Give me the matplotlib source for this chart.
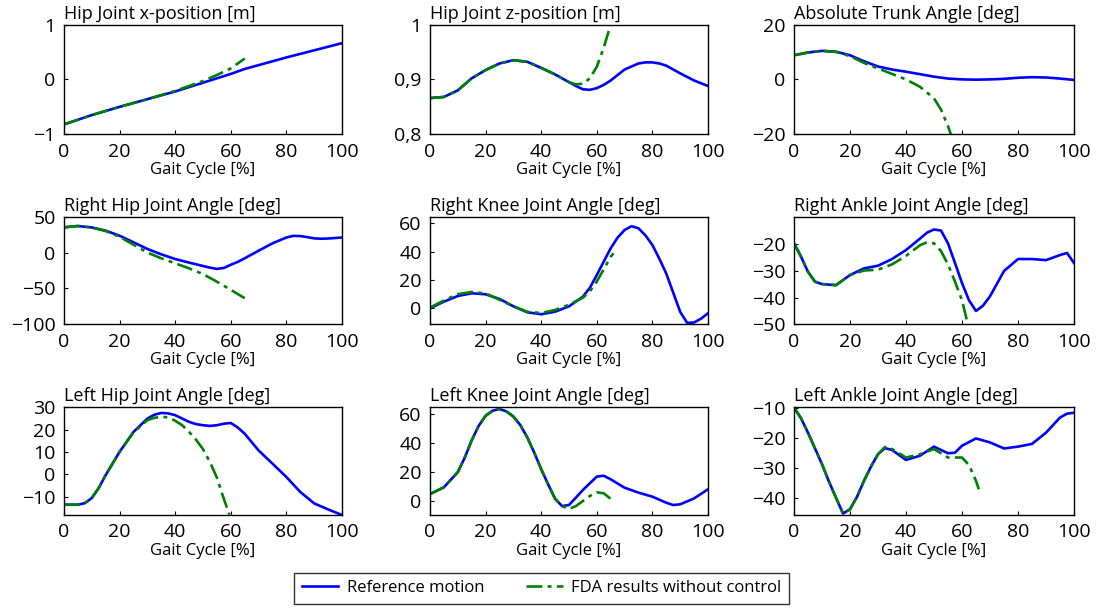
import matplotlib
matplotlib.use("Agg")
import matplotlib.pyplot as plt
from matplotlib.lines import Line2D

plt.rcParams['font.family'] = ['Open Sans', 'DejaVu Sans']
plt.rcParams['axes.unicode_minus'] = True

# ---- data (gait cycle in %) ----
# Hip joint x-position [m]
hipx_pct = [0, 10, 20, 30, 40, 50, 55, 60, 65, 70, 80, 90, 100]
hipx_ref = [-0.82, -0.65, -0.50, -0.36, -0.22, -0.06, 0.02, 0.10, 0.19, 0.26, 0.40, 0.53, 0.66]
hipx_fda_pct = [0, 10, 20, 30, 40, 50, 55, 60, 65]
hipx_fda = [-0.82, -0.65, -0.50, -0.36, -0.21, -0.03, 0.08, 0.20, 0.38]

# Hip joint z-position [m]
hipz_pct = [0, 5, 10, 15, 20, 25, 30, 35, 40, 45, 50, 52.5, 55, 57.5, 60, 62.5, 65, 70, 75,
            77.5, 80, 82.5, 85, 90, 95, 100]
hipz_ref = [0.866, 0.868, 0.880, 0.902, 0.917, 0.929, 0.935, 0.932, 0.921, 0.909, 0.895,
            0.888, 0.882, 0.881, 0.884, 0.890, 0.898, 0.918, 0.929, 0.931, 0.931, 0.929,
            0.925, 0.911, 0.898, 0.888]
hipz_fda_pct = [0, 5, 10, 15, 20, 25, 30, 35, 40, 45, 50, 52.5, 55, 57.5, 60, 62.5, 65]
hipz_fda = [0.866, 0.868, 0.880, 0.902, 0.917, 0.929, 0.935, 0.932, 0.921, 0.909, 0.895,
            0.891, 0.892, 0.902, 0.923, 0.958, 1.0]

# Absolute trunk angle [deg]
trunk_pct = [0, 5, 10, 15, 20, 25, 30, 35, 40, 45, 50, 55, 60, 65, 70, 75, 80, 85, 90, 95, 100]
trunk_ref = [8.8, 9.8, 10.4, 10.1, 8.8, 6.6, 4.7, 3.6, 2.8, 1.9, 1.0, 0.3, 0.0, -0.1, 0.0,
             0.2, 0.6, 0.8, 0.7, 0.3, -0.2]
trunk_fda_pct = [0, 5, 10, 15, 20, 25, 30, 35, 40, 45, 50, 52.5, 55, 56]
trunk_fda = [8.8, 9.8, 10.4, 10.0, 8.5, 6.0, 4.0, 2.0, 0.0, -2.7, -6.9, -11.0, -17.0, -20.0]

# Right hip joint angle [deg]
rhip_pct = [0, 5, 10, 15, 20, 25, 30, 35, 40, 45, 50, 52.5, 55, 57.5, 60, 62.5, 65, 70, 75,
            80, 82.5, 85, 87.5, 90, 92.5, 95, 100]
rhip_ref = [35.2, 37.0, 35.0, 30.5, 23.5, 14.3, 5.0, -2.5, -9.0, -14.0, -18.7, -21.0, -22.8,
            -21.5, -17.0, -13.0, -8.0, 2.6, 12.9, 21.0, 23.3, 23.0, 21.5, 19.8, 19.3, 19.6, 21.0]
rhip_fda_pct = [0, 5, 10, 15, 20, 25, 30, 35, 40, 45, 50, 55, 60, 65]
rhip_fda = [35.2, 37.0, 35.0, 30.0, 22.0, 11.0, 0.0, -8.0, -15.0, -22.0, -30.0, -40.6, -52.0, -63.6]

# Right knee joint angle [deg]
rknee_pct = [0, 5, 10, 15, 20, 25, 30, 35, 40, 45, 50, 55, 57.5, 60, 62.5, 65, 67.5, 70,
             72.5, 75, 77.5, 80, 82.5, 85, 87.5, 90, 92.5, 95, 97.5, 100]
rknee_ref = [0.0, 4.7, 8.7, 10.6, 9.9, 6.6, 1.4, -2.8, -4.2, -2.4, 1.4, 8.2, 14.5, 23.5,
             33.0, 42.4, 50.0, 55.3, 58.0, 56.5, 51.5, 44.7, 35.0, 24.5, 11.0, -2.5, -10.3,
             -10.0, -7.3, -3.5]
rknee_fda_pct = [0, 5, 10, 15, 20, 25, 30, 35, 40, 45, 50, 55, 57.5, 60, 62.5, 65, 66]
rknee_fda = [0.5, 5.5, 10.0, 11.5, 10.5, 6.0, 1.5, -2.5, -3.3, -1.2, 2.5, 7.5, 12.0, 19.0,
             27.5, 36.5, 38.8]

# Right ankle joint angle [deg]
rank_pct = [0, 2.5, 5, 7.5, 10, 15, 20, 25, 30, 35, 40, 42.5, 45, 47.5, 50, 52.5, 55, 57.5,
            60, 62.5, 65, 67.5, 70, 75, 80, 85, 90, 95, 97.5, 100]
rank_ref = [-19.6, -24.6, -30.3, -34.0, -34.9, -35.3, -31.5, -29.0, -28.0, -25.5, -22.1,
            -20.0, -17.8, -15.6, -14.4, -14.8, -19.6, -27.0, -34.5, -41.0, -45.0, -43.0,
            -39.5, -30.0, -25.5, -25.5, -25.9, -24.0, -23.2, -27.0]
rank_fda_pct = [0, 2.5, 5, 7.5, 10, 15, 20, 25, 30, 35, 40, 42.5, 45, 47.5, 50, 52.5, 55,
                57.5, 60, 62]
rank_fda = [-19.6, -24.6, -30.3, -34.0, -34.9, -35.3, -31.5, -29.8, -29.5, -27.5, -24.3,
            -22.3, -20.3, -19.2, -19.6, -22.5, -27.5, -34.0, -41.0, -49.6]

# Left hip joint angle [deg]
lhip_pct = [0, 5, 7.5, 10, 12.5, 15, 20, 25, 30, 32.5, 35, 37.5, 40, 42.5, 45, 47.5, 50,
            52.5, 55, 57.5, 60, 62.5, 65, 70, 75, 80, 85, 90, 95, 100]
lhip_ref = [-13.6, -13.6, -12.9, -10.6, -6.1, -0.3, 10.1, 19.0, 25.0, 26.7, 27.5, 27.3,
            26.5, 25.0, 23.5, 22.5, 22.0, 21.7, 22.0, 22.7, 23.0, 21.0, 18.2, 10.7, 4.8,
            -1.2, -7.9, -13.0, -15.7, -18.2]
lhip_fda_pct = [0, 5, 7.5, 10, 12.5, 15, 20, 25, 30, 32.5, 35, 37.5, 40, 42.5, 45, 47.5,
                50, 52.5, 55, 57.5, 59.5]
lhip_fda = [-13.6, -13.6, -12.9, -10.6, -6.1, -0.3, 10.1, 18.8, 24.3, 25.3, 25.8, 25.5,
            24.0, 22.0, 19.0, 15.5, 11.3, 5.5, -1.5, -11.0, -18.0]

# Left knee joint angle [deg]
lknee_pct = [0, 5, 10, 12.5, 15, 17.5, 20, 22.5, 25, 27.5, 30, 32.5, 35, 37.5, 40, 42.5,
             45, 47.5, 50, 55, 60, 62.5, 65, 70, 75, 80, 85, 87.5, 90, 95, 100]
lknee_ref = [4.8, 9.5, 20.0, 30.0, 42.0, 52.0, 59.0, 62.5, 63.7, 62.0, 58.5, 52.5, 44.0,
             33.5, 22.0, 11.5, 1.5, -3.5, -2.8, 7.6, 16.9, 17.5, 15.0, 9.2, 5.8, 3.0, -1.2,
             -2.8, -2.3, 1.8, 8.1]
lknee_fda_pct = [0, 5, 10, 12.5, 15, 17.5, 20, 22.5, 25, 27.5, 30, 32.5, 35, 37.5, 40,
                 42.5, 45, 47.5, 50, 52.5, 55, 57.5, 60, 62.5, 65, 66]
lknee_fda = [4.8, 9.5, 20.0, 30.0, 42.0, 52.0, 59.0, 62.5, 63.7, 62.0, 58.5, 52.5, 44.0,
             33.5, 22.0, 11.5, 1.5, -3.5, -5.5, -3.5, 0.0, 3.5, 6.0, 5.3, 1.5, 0.5]

# Left ankle joint angle [deg]
lank_pct = [0, 2.5, 5, 7.5, 10, 12.5, 15, 17.5, 20, 22.5, 25, 27.5, 30, 32.5, 35, 40, 45,
            50, 55, 57.5, 60, 65, 70, 75, 80, 85, 90, 95, 97.5, 100]
lank_ref = [-10.0, -13.5, -18.3, -23.5, -28.7, -34.5, -39.8, -45.0, -43.6, -39.5, -34.2,
            -29.5, -25.4, -23.4, -24.0, -27.3, -25.9, -22.9, -25.1, -24.9, -22.6, -20.2,
            -21.5, -23.5, -22.9, -22.0, -18.3, -13.3, -12.0, -11.7]
lank_fda_pct = [0, 2.5, 5, 7.5, 10, 12.5, 15, 17.5, 20, 22.5, 25, 27.5, 30, 32.5, 35, 40,
                45, 50, 55, 60, 62.5, 65, 66]
lank_fda = [-10.0, -13.5, -18.3, -23.5, -28.7, -34.5, -39.8, -45.0, -43.6, -39.5, -34.2,
            -29.5, -25.4, -23.0, -23.7, -26.5, -25.4, -23.7, -26.5, -26.5, -29.0, -34.2, -37.0]

titles = ['Hip Joint x-position [m]', 'Hip Joint z-position [m]', 'Absolute Trunk Angle [deg]',
          'Right Hip Joint Angle [deg]', 'Right Knee Joint Angle [deg]', 'Right Ankle Joint Angle [deg]',
          'Left Hip Joint Angle [deg]', 'Left Knee Joint Angle [deg]', 'Left Ankle Joint Angle [deg]']

panels = [
    (hipx_pct, hipx_ref, hipx_fda_pct, hipx_fda, (-1, 1), [-1, 0, 1]),
    (hipz_pct, hipz_ref, hipz_fda_pct, hipz_fda, (0.8, 1.0), [0.8, 0.9, 1.0]),
    (trunk_pct, trunk_ref, trunk_fda_pct, trunk_fda, (-20, 20), [-20, 0, 20]),
    (rhip_pct, rhip_ref, rhip_fda_pct, rhip_fda, (-100, 50), [-100, -50, 0, 50]),
    (rknee_pct, rknee_ref, rknee_fda_pct, rknee_fda, (-11.3, 64.7), [0, 20, 40, 60]),
    (rank_pct, rank_ref, rank_fda_pct, rank_fda, (-50, -9.6), [-50, -40, -30, -20]),
    (lhip_pct, lhip_ref, lhip_fda_pct, lhip_fda, (-18.2, 30.3), [-10, 0, 10, 20, 30]),
    (lknee_pct, lknee_ref, lknee_fda_pct, lknee_fda, (-9.7, 65.3), [0, 20, 40, 60]),
    (lank_pct, lank_ref, lank_fda_pct, lank_fda, (-45.5, -9.7), [-40, -30, -20, -10]),
]

# axes boxes in pixels (left, right) per column and (top, bottom) per row
W, H = 1099, 614
cols = [(64, 342), (430, 708), (794, 1074)]
rows = [(24.5, 134.3), (216.7, 324.3), (406.7, 515)]

fig = plt.figure(figsize=(W / 100, H / 100), dpi=100)

for i, (px, ref, fpx, fda, ylim, yticks) in enumerate(panels):
    r, c = divmod(i, 3)
    l, rr = cols[c]
    t, b = rows[r]
    ax = fig.add_axes([l / W, 1 - b / H, (rr - l) / W, (b - t) / H])
    ax.plot(px, ref, color=(0, 0, 1), lw=1.9, solid_joinstyle='round')
    ax.plot(fpx, fda, color=(0, 0.5, 0), lw=1.9, dashes=(6, 2, 1.5, 2))
    ax.set_xlim(0, 100)
    ax.set_ylim(*ylim)
    ax.set_xticks([0, 20, 40, 60, 80, 100])
    ax.set_yticks(yticks)
    if i == 1:
        ax.set_yticklabels(['0,8', '0,9', '1'])
    ax.tick_params(direction='in', length=3, width=0.8, labelsize=14, pad=6)
    for s in ax.spines.values():
        s.set_linewidth(1.0)
    ax.set_title(titles[i], loc='left', fontsize=13, pad=4)
    ax.set_xlabel('Gait Cycle [%]', fontsize=12, labelpad=1)

handles = [Line2D([], [], color=(0, 0, 1), lw=1.9),
           Line2D([], [], color=(0, 0.5, 0), lw=1.9, dashes=(6, 2, 1.5, 2))]
leg = fig.legend(handles, ['Reference motion', 'FDA results without control'],
                 loc='center', bbox_to_anchor=((290 + 793) / 2 / W, 1 - 588 / H),
                 ncol=2, fontsize=12, frameon=True, fancybox=False,
                 edgecolor='black', columnspacing=2.5, handlelength=2.2,
                 handletextpad=0.5, borderpad=0.45)
leg.get_frame().set_linewidth(1.0)

fig.savefig('out.png', dpi=100)
